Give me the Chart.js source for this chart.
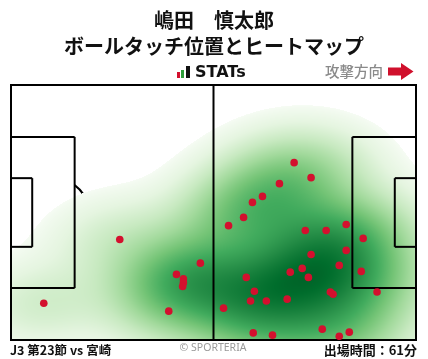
<!DOCTYPE html>
<html>
<head>
<meta charset="utf-8">
<script src="https://cdn.jsdelivr.net/npm/chart.js@4"></script>
<style>
  html, body { margin: 0; padding: 0; background: #fff; }
  canvas { display: block; }
</style>
</head>
<body>
<canvas id="touchmap" width="428" height="359"></canvas>
<script>
// ball touches, pitch metres (x: own goal -> attacking goal, y: top -> bottom)
var touchX = [8.5, 28.2, 40.9, 42.9, 44.7, 44.7, 44.5, 49.1, 55.1, 56.4,
  60.3, 61.0, 62.1, 62.6, 63.1, 62.8, 65.2, 66.2, 67.8, 69.6,
  71.6, 72.4, 73.4, 75.5, 76.3, 77.1, 77.8, 77.8, 80.7, 81.7,
  82.8, 83.5, 85.1, 85.1, 86.9, 86.9, 87.7, 90.8, 91.3, 94.9];
var touchY = [58.2, 41.2, 60.3, 50.5, 51.7, 52.7, 53.7, 47.5, 59.5, 37.5,
  35.3, 51.3, 57.6, 31.3, 55.0, 66.1, 29.7, 57.6, 66.7, 26.3,
  57.1, 49.9, 20.7, 48.9, 38.8, 51.3, 24.7, 45.2, 65.1, 38.8,
  55.2, 55.8, 48.1, 67.0, 37.2, 44.1, 65.9, 49.7, 40.9, 55.2];

var pitchLength = 105;
var pitchWidth = 68;

var titleLines = ["嶋田　慎太郎", "ボールタッチ位置とヒートマップ"];
var matchLabel = "J3 第23節 vs 宮崎";
var minutesLabel = "出場時間：61分";

var bwAdjust = 1.1;
var heatThresh = 0.008;
var heatGamma = 0.6;

// matplotlib "Greens"
var greens = ["#f7fcf5", "#e5f5e0", "#c7e9c0", "#a1d99b", "#74c476",
  "#41ab5d", "#238b45", "#006d2c", "#00441b"].map(function (h) {
  return [parseInt(h.substr(1, 2), 16), parseInt(h.substr(3, 2), 16), parseInt(h.substr(5, 2), 16)];
});
function greenAt(t) {
  t = Math.max(0, Math.min(1, t)) * (greens.length - 1);
  var i = Math.min(Math.floor(t), greens.length - 2), f = t - i;
  var a = greens[i], b = greens[i + 1];
  return [a[0] + (b[0] - a[0]) * f, a[1] + (b[1] - a[1]) * f, a[2] + (b[2] - a[2]) * f];
}

// gaussian kde (scott factor, full covariance)
function makeKde(xs, ys) {
  var n = xs.length, mx = 0, my = 0;
  for (var i = 0; i < n; i++) { mx += xs[i]; my += ys[i]; }
  mx /= n; my /= n;
  var sxx = 0, syy = 0, sxy = 0;
  for (i = 0; i < n; i++) {
    sxx += (xs[i] - mx) * (xs[i] - mx);
    syy += (ys[i] - my) * (ys[i] - my);
    sxy += (xs[i] - mx) * (ys[i] - my);
  }
  var f2 = Math.pow(n, -1 / 3) * bwAdjust * bwAdjust;
  sxx = sxx / (n - 1) * f2; syy = syy / (n - 1) * f2; sxy = sxy / (n - 1) * f2;
  var det = sxx * syy - sxy * sxy;
  var ia = syy / det, ib = -sxy / det, ic = sxx / det;
  var fn = function (x, y) {
    var s = 0;
    for (var k = 0; k < n; k++) {
      var dx = x - xs[k], dy = y - ys[k];
      s += Math.exp(-0.5 * (ia * dx * dx + 2 * ib * dx * dy + ic * dy * dy));
    }
    return s;
  };
  fn.bx = Math.sqrt(sxx); fn.by = Math.sqrt(syy);
  return fn;
}

var heatCache = null;
var heatPlugin = {
  id: "pitchHeat",
  beforeDatasetsDraw: function (chart) {
    var ctx = chart.ctx, xs = chart.scales.x, ys = chart.scales.y, a = chart.chartArea;
    var px = function (v) { return xs.getPixelForValue(v); };
    var py = function (v) { return ys.getPixelForValue(v); };
    ctx.save();
    ctx.strokeStyle = "#000";
    ctx.lineWidth = 2;
    // arcs sit under the heat layer
    var rx = px(9.15) - px(0), ry = py(9.15) - py(0);
    ctx.beginPath();
    ctx.ellipse(px(pitchLength / 2), py(pitchWidth / 2), rx, ry, 0, 0, Math.PI * 2);
    ctx.stroke();
    var ang = Math.acos(5.5 / 9.15);
    ctx.beginPath();
    ctx.ellipse(px(11), py(pitchWidth / 2), rx, ry, 0, -ang, ang);
    ctx.stroke();
    ctx.beginPath();
    ctx.ellipse(px(pitchLength - 11), py(pitchWidth / 2), rx, ry, 0, Math.PI - ang, Math.PI + ang);
    ctx.stroke();

    if (!heatCache) {
      var kde = makeKde(touchX, touchY);
      // lowest filled level: iso-proportion of the mass
      var x0 = Math.min.apply(null, touchX) - 3 * kde.bx, x1 = Math.max.apply(null, touchX) + 3 * kde.bx;
      var y0 = Math.min.apply(null, touchY) - 3 * kde.by, y1 = Math.max.apply(null, touchY) + 3 * kde.by;
      var vals = [], G = 160, vmax = 0;
      for (var gi = 0; gi < G; gi++) for (var gj = 0; gj < G; gj++) {
        var v = kde(x0 + (x1 - x0) * gi / (G - 1), y0 + (y1 - y0) * gj / (G - 1));
        vals.push(v); if (v > vmax) vmax = v;
      }
      var total = vals.reduce(function (s, v) { return s + v; }, 0);
      vals.sort(function (p, q) { return q - p; });
      var cum = 0, level = 0;
      for (var k = 0; k < vals.length; k++) { cum += vals[k]; if (cum / total >= 1 - heatThresh) { level = vals[k]; break; } }

      var w = Math.round(a.right - a.left), h = Math.round(a.bottom - a.top);
      var off = document.createElement("canvas");
      off.width = w; off.height = h;
      var octx = off.getContext("2d");
      var img = octx.createImageData(w, h);
      for (var j = 0; j < h; j++) {
        var dy = ys.getValueForPixel(a.top + j + 0.5);
        for (var i = 0; i < w; i++) {
          var d = kde(xs.getValueForPixel(a.left + i + 0.5), dy);
          var p = (j * w + i) * 4;
          if (d < level) {
            img.data[p] = 255; img.data[p + 1] = 255; img.data[p + 2] = 255; img.data[p + 3] = 0;
          } else {
            var c = greenAt(0.9 * Math.pow((d - level) / (vmax - level), heatGamma));
            img.data[p] = c[0]; img.data[p + 1] = c[1]; img.data[p + 2] = c[2]; img.data[p + 3] = 255;
          }
        }
      }
      octx.putImageData(img, 0, 0);
      heatCache = off;
    }
    ctx.drawImage(heatCache, Math.round(a.left), Math.round(a.top));

    // straight pitch lines on top
    var line = function (xa, ya, xb, yb) {
      ctx.beginPath(); ctx.moveTo(px(xa), py(ya)); ctx.lineTo(px(xb), py(yb)); ctx.stroke();
    };
    var box = function (xa, ya, xb, yb) {
      line(xa, ya, xb, ya); line(xb, ya, xb, yb); line(xb, yb, xa, yb);
    };
    var pbTop = pitchWidth / 2 - 20.16, pbBot = pitchWidth / 2 + 20.16;
    var gaTop = pitchWidth / 2 - 9.16, gaBot = pitchWidth / 2 + 9.16;
    box(0, pbTop, 16.5, pbBot);
    box(0, gaTop, 5.5, gaBot);
    box(pitchLength, pbTop, pitchLength - 16.5, pbBot);
    box(pitchLength, gaTop, pitchLength - 5.5, gaBot);
    line(pitchLength / 2, 0, pitchLength / 2, pitchWidth);
    ctx.strokeRect(px(0), py(0), px(pitchLength) - px(0), py(pitchWidth) - py(0));
    ctx.restore();
  },
  afterDraw: function (chart) {
    var ctx = chart.ctx;
    ctx.save();
    ctx.fillStyle = "#111";
    ctx.textAlign = "center";
    ctx.textBaseline = "middle";
    ctx.font = 'bold 20px "Noto Sans CJK JP"';
    ctx.fillText(titleLines[0], 214, 20);
    ctx.fillText(titleLines[1], 214, 46);

    // STATs mark
    ctx.fillStyle = "#d3102e"; ctx.fillRect(177, 72, 3, 6);
    ctx.fillStyle = "#2e9e3a"; ctx.fillRect(181, 70, 3, 8);
    ctx.fillStyle = "#111"; ctx.fillRect(186, 66, 4, 12);
    ctx.textAlign = "left";
    ctx.font = 'bold 16px "DejaVu Sans"';
    ctx.fillText("STATs", 195, 72.5);

    ctx.fillStyle = "#8a8a8a";
    ctx.font = '500 14.5px "Noto Sans CJK JP"';
    ctx.fillText("攻撃方向", 325, 71.5);
    ctx.fillStyle = "#d0102c";
    ctx.beginPath();
    ctx.moveTo(388, 67.5); ctx.lineTo(401, 67.5); ctx.lineTo(401, 63); ctx.lineTo(413.5, 71.5);
    ctx.lineTo(401, 80); ctx.lineTo(401, 75.5); ctx.lineTo(388, 75.5);
    ctx.closePath(); ctx.fill();

    ctx.fillStyle = "#111";
    ctx.font = 'bold 12.5px "Noto Sans CJK JP"';
    ctx.fillText(matchLabel, 10, 350.5);
    ctx.textAlign = "right";
    ctx.font = 'bold 13px "Noto Sans CJK JP"';
    ctx.fillText(minutesLabel, 417, 350);
    ctx.textAlign = "center";
    ctx.fillStyle = "#9a9a9a";
    ctx.font = '10.5px "Noto Sans"';
    ctx.fillText("© SPORTERIA", 213, 348.5);
    ctx.restore();
  }
};

var touches = touchX.map(function (x, i) { return { x: x, y: touchY[i] }; });

new Chart(document.getElementById("touchmap").getContext("2d"), {
  type: "scatter",
  data: {
    datasets: [
      {
        label: "ボールタッチ",
        data: touches,
        backgroundColor: "#d3102e",
        borderWidth: 0,
        pointRadius: 3.8,
      },
    ],
  },
  options: {
    responsive: false,
    animation: false,
    layout: { padding: { left: 11, right: 12, top: 85, bottom: 19 } },
    scales: {
      x: { type: "linear", min: 0, max: pitchLength, display: false },
      y: { type: "linear", min: 0, max: pitchWidth, reverse: true, display: false },
    },
    plugins: { legend: { display: false }, tooltip: { enabled: false } },
  },
  plugins: [heatPlugin],
});
</script>
</body>
</html>
